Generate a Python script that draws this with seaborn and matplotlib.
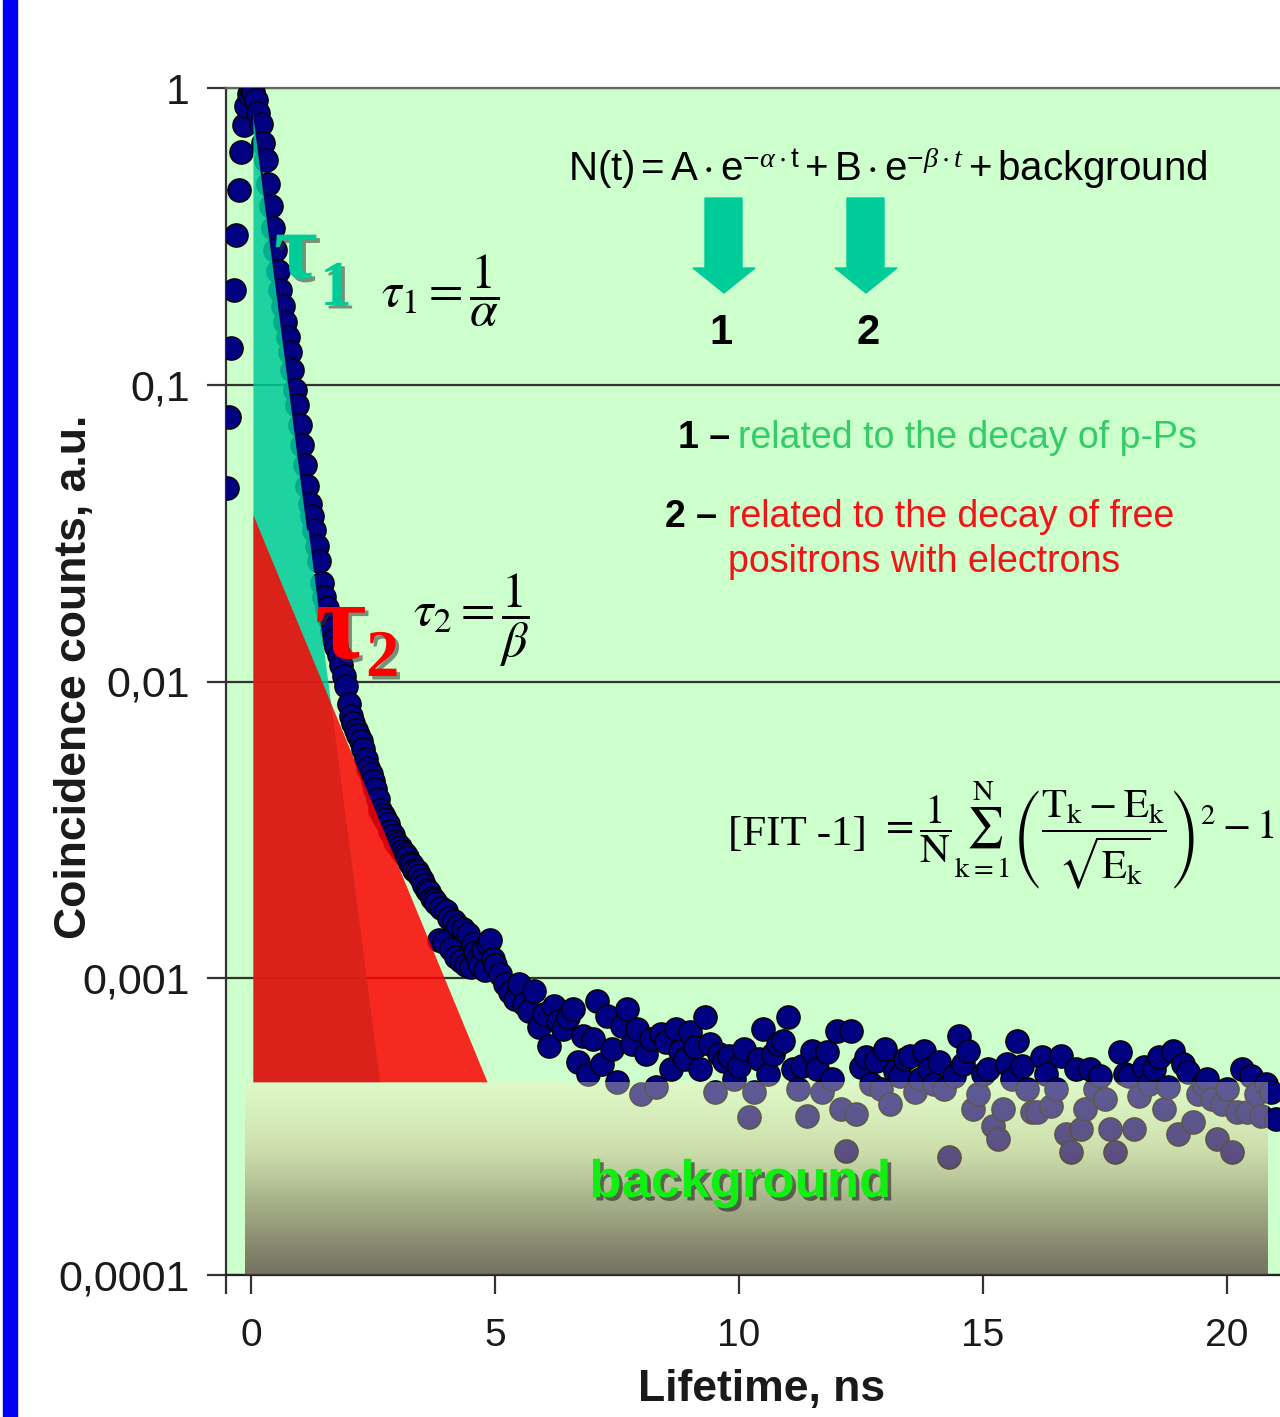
import numpy as np
import pandas as pd
import matplotlib
matplotlib.use("Agg")
import matplotlib.pyplot as plt
import matplotlib.patheffects as pe
from matplotlib.patches import Rectangle, Polygon
from matplotlib.ticker import FixedLocator, NullLocator
import seaborn as sns

# ============================================================
# 0. data
# ============================================================

# channels: -0.5 .. 5.0 ns every 0.05 ns
head_start, head_step = -0.5, 0.05
head_counts = [
    0.045, 0.078, 0.133, 0.209, 0.320, 0.454, 0.609, 0.750, 0.870, 0.955, 0.992,
    0.969, 0.911, 0.824, 0.756, 0.653, 0.572, 0.475, 0.401, 0.338, 0.285,
    0.242, 0.209, 0.1845, 0.163, 0.145, 0.129, 0.1123, 0.0962, 0.0856, 0.0733,
    0.0628, 0.0538, 0.0457, 0.0397, 0.0362, 0.0325, 0.0287, 0.0254, 0.0215, 0.0192,
    0.01775, 0.01642, 0.01496, 0.01385, 0.01302, 0.01224, 0.01141, 0.01047, 0.00962, 0.00837,
    0.00768, 0.00722, 0.00684, 0.00658, 0.00628, 0.00590, 0.00546, 0.00513, 0.00486, 0.00461,
    0.00433, 0.00401, 0.00368, 0.00354, 0.00343, 0.00330, 0.00313, 0.00303, 0.00291, 0.00283,
    0.00276, 0.00268, 0.00262, 0.00256, 0.00244, 0.00240, 0.00231, 0.00229, 0.00222, 0.00215,
    0.00206, 0.00199, 0.00195, 0.00187, 0.00183, 0.00179, 0.00135, 0.00173, 0.00132, 0.00168,
    0.00160, 0.00125, 0.00156, 0.00118, 0.00150, 0.00114, 0.00146, 0.00111, 0.00141, 0.00109,
    0.00130, 0.00123, 0.00116, 0.00111, 0.00125, 0.00107, 0.00130, 0.00135, 0.00116, 0.00111,
]

# channels: 5.1 .. 21.0 ns every 0.1 ns, counts in units of 1e-4
tail_start, tail_step = 5.1, 0.1
tail_counts_e4 = [
    10.31, 9.55, 8.97, 8.50, 9.55, 8.18, 7.75, 9.04, 6.84, 7.57,
    5.90, 8.05, 7.17, 6.74, 7.39, 7.87, 5.21, 6.38, 4.75, 6.23,
    8.37, 5.13, 7.45, 5.77, 4.47, 6.90, 7.87, 6.00, 6.74, 4.07,
    5.55, 6.23, 4.30, 6.48, 6.09, 4.94, 6.74, 5.68, 5.34, 6.58,
    5.86, 4.94, 7.39, 6.00, 4.13, 5.55, 5.25, 5.46, 4.57, 5.06,
    5.77, 3.40, 4.13, 5.34, 6.74, 4.75, 5.55, 6.00, 6.14, 7.39,
    4.94, 4.23, 5.06, 3.43, 5.68, 4.94, 4.13, 5.63, 4.57, 6.63,
    3.62, 2.62, 6.63, 3.48, 5.02, 5.42, 4.40, 5.25, 4.23, 5.77,
    3.77, 4.86, 4.68, 5.34, 5.46, 4.13, 4.57, 5.68, 4.94, 4.40,
    5.21, 4.23, 2.50, 4.68, 6.38, 5.13, 5.68, 3.62, 4.07, 4.75,
    4.94, 3.18, 2.87, 3.62, 5.13, 4.57, 6.14, 5.06, 4.23, 3.54,
    3.54, 5.42, 4.75, 3.71, 4.23, 5.46, 2.98, 2.60, 4.94, 3.10,
    3.62, 4.94, 4.23, 4.68, 3.91, 3.10, 2.60, 5.63, 4.75, 4.68,
    3.10, 4.01, 5.02, 4.40, 4.94, 5.42, 3.62, 4.30, 5.68, 2.98,
    5.13, 4.83, 3.28, 4.07, 4.40, 4.57, 3.91, 2.87, 3.77, 4.23,
    2.60, 3.54, 4.94, 3.54, 4.68, 4.07, 3.43, 4.40, 4.13, 3.35,
]

# fitted components (end points of the straight log lines)
bg_level = 4.47e-4
comp1_t = [0.04, 2.64]
comp1_n = [0.876, bg_level]
comp2_t = [0.04, 4.84]
comp2_n = [0.0365, bg_level]
fit_line_t = [0.04, 1.17]
fit_line_n = [0.876, 0.0325]
bg_t = [-0.12, 20.84]

y_ticks = [1e-4, 1e-3, 1e-2, 1e-1, 1]
y_tick_labels = ["0,0001", "0,001", "0,01", "0,1", "1"]
x_ticks = [0, 5, 10, 15, 20]
x_tick_labels = ["0", "5", "10", "15", "20"]

head_t = np.round(head_start + head_step * np.arange(len(head_counts)), 3)
tail_t = np.round(tail_start + tail_step * np.arange(len(tail_counts_e4)), 3)

df = pd.DataFrame({
    "t": np.concatenate([head_t, tail_t]),
    "n": np.concatenate([head_counts, np.array(tail_counts_e4) * 1e-4]),
})

# ============================================================
# 1. style
# ============================================================

sns.set_theme(style="ticks")
plt.rcParams["font.family"] = ["Liberation Sans", "DejaVu Sans"]
plt.rcParams["mathtext.rm"] = "Liberation Sans"
plt.rcParams["mathtext.it"] = "Liberation Serif:italic"
plt.rcParams["mathtext.bf"] = "Liberation Sans:bold"
plt.rcParams["mathtext.fallback"] = "stix"

W, H = 1280, 1417
x_min, x_max = -0.512, 21.086


def fp(x, y):
    # pixel position (from top-left) -> figure fraction
    return x / W, 1 - y / H


fig = plt.figure(figsize=(W / 100, H / 100), dpi=100)
fig.patch.set_facecolor("white")
fig.patches.append(Rectangle(fp(3, H), 14 / W, 1, transform=fig.transFigure,
                             color="#0000F5", zorder=0))

ax = fig.add_axes([226 / W, 1 - 1275 / H, (W - 226) / W, (1275 - 88) / H])
ax.set_facecolor("#CCFFCC")

# ============================================================
# 2. plot
# ============================================================

sns.scatterplot(data=df, x="t", y="n", ax=ax, s=280, color="#000080",
                edgecolor="black", linewidth=1.0, zorder=3, legend=False)

ax.fill_between(comp1_t, comp1_n, bg_level, color="#00CC99", alpha=0.85,
                lw=0, zorder=4)
ax.fill_between(comp2_t, comp2_n, bg_level, color="#FF0000", alpha=0.84,
                lw=0, zorder=5)
ax.plot(fit_line_t, fit_line_n, color="#000066", lw=1.5, zorder=6)

ax.set_yscale("log")
ax.set_xlim(x_min, x_max)
ax.set_ylim(1e-4, 1)

ax.yaxis.set_major_locator(FixedLocator(y_ticks))
ax.yaxis.set_minor_locator(NullLocator())
ax.set_yticklabels(y_tick_labels)
ax.set_xticks([x_min] + x_ticks)
ax.set_xticklabels([""] + x_tick_labels)

ax.tick_params(axis="both", which="major", length=14, width=1.6,
               color="#333333", labelcolor="#1a1a1a", direction="out")
ax.tick_params(axis="x", labelsize=28, pad=17)
ax.tick_params(axis="y", labelsize=31, pad=12)

ax.set_axisbelow(True)
ax.grid(axis="y", which="major", color="#333333", lw=1.6)
ax.grid(axis="x", visible=False)

ax.spines["right"].set_visible(False)
ax.spines["top"].set_color("#666666")
ax.spines["left"].set_color("#333333")
ax.spines["bottom"].set_color("#222222")
for s in ["top", "left", "bottom"]:
    ax.spines[s].set_linewidth(1.6)

ax.set_xlabel("")
ax.set_ylabel("")

# background band with vertical gradient (drawn over the points)
p0 = ax.transData.transform((bg_t[0], 1e-4))
p1 = ax.transData.transform((bg_t[1], bg_level))
f0 = fig.transFigure.inverted().transform(p0)
f1 = fig.transFigure.inverted().transform(p1)
ax_bg = fig.add_axes([f0[0], f0[1], f1[0] - f0[0], f1[1] - f0[1]])
ax_bg.set_zorder(ax.get_zorder() + 1)

stops = [0, 0.35, 0.6, 0.85, 1.0]
stop_rgba = np.array([
    [251, 242, 193, 0.38 * 255],
    [206, 182, 133, 0.45 * 255],
    [142, 119, 88, 0.55 * 255],
    [98, 70, 59, 0.65 * 255],
    [80, 61, 53, 0.72 * 255],
]) / 255
rows = np.linspace(0, 1, 200)
grad = np.stack([np.interp(rows, stops, stop_rgba[:, c]) for c in range(4)], axis=-1)
grad = np.repeat(grad[:, None, :], 2, axis=1)
ax_bg.imshow(grad, aspect="auto", extent=(0, 1, 0, 1), interpolation="bilinear")
ax_bg.set_axis_off()

# ============================================================
# 3. texts
# ============================================================

fig.text(*fp(75, 677), "Coincidence counts, a.u.", rotation=90, ha="center",
         va="center", fontsize=32, fontweight="bold", color="#1a1a1a")
fig.text(*fp(762, 1390), "Lifetime, ns", ha="center", va="center",
         fontsize=32, fontweight="bold", color="#1a1a1a")

shadow = [pe.withSimplePatchShadow(offset=(2.5, -2.5), shadow_rgbFace="#333333",
                                   alpha=0.55)]
serif = ["Liberation Serif", "DejaVu Serif"]

fig.text(*fp(274, 278), "τ", family=serif, fontweight="bold", fontsize=68,
         color="#00CC99", va="baseline", path_effects=shadow)
fig.text(*fp(320, 305), "1", family=serif, fontweight="bold", fontsize=46,
         color="#00CC99", va="baseline", path_effects=shadow)
fig.text(*fp(315, 658), "τ", family=serif, fontweight="bold", fontsize=80,
         color="#FF0000", va="baseline", path_effects=shadow)
fig.text(*fp(366, 676), "2", family=serif, fontweight="bold", fontsize=48,
         color="#FF0000", va="baseline", path_effects=shadow)

fig.text(*fp(440, 291), r"$\tau_1 = \dfrac{1}{\alpha}$", math_fontfamily="stix",
         fontsize=36, ha="center", va="center", color="black")
fig.text(*fp(471, 620), r"$\tau_2 = \dfrac{1}{\beta}$", math_fontfamily="stix",
         fontsize=36, ha="center", va="center", color="black")

fig.text(*fp(568, 181),
         r"$\mathrm{N(t)}=\mathrm{A}\cdot\mathrm{e}^{\mathrm{-}\alpha\cdot\mathrm{t}}"
         r"+\mathrm{B}\cdot\mathrm{e}^{-\beta\cdot t}+\mathrm{background}$",
         math_fontfamily="custom", fontsize=29, ha="left", va="baseline",
         color="black")

# arrows 1 and 2
for cx in [724, 866]:
    pts = [(cx - 19, 198), (cx + 18, 198), (cx + 18, 268), (cx + 31, 268),
           (cx, 293), (cx - 31, 268), (cx - 19, 268)]
    fig.patches.append(Polygon([fp(x, y) for x, y in pts], closed=True,
                               transform=fig.transFigure, color="#00CC99",
                               zorder=5))
fig.text(*fp(721, 333), "1", ha="center", va="center", fontsize=30,
         fontweight="bold", color="black")
fig.text(*fp(868, 333), "2", ha="center", va="center", fontsize=30,
         fontweight="bold", color="black")

fig.text(*fp(678, 438), "1 –", ha="left", va="center", fontsize=27,
         fontweight="bold", color="black")
fig.text(*fp(738, 438), "related to the decay of p-Ps", ha="left", va="center",
         fontsize=27, color="#33CC66")
fig.text(*fp(665, 517), "2 –", ha="left", va="center", fontsize=27,
         fontweight="bold", color="black")
fig.text(*fp(728, 517), "related to the decay of free", ha="left", va="center",
         fontsize=27, color="#F01414")
fig.text(*fp(728, 562), "positrons with electrons", ha="left", va="center",
         fontsize=27, color="#F01414")

fig.text(*fp(728, 835), "[FIT -1]", family=serif, fontsize=31, ha="left",
         va="center", color="black")
fig.text(*fp(880, 835),
         r"$=\dfrac{1}{\mathrm{N}}\sum_{\mathrm{k=1}}^{\mathrm{N}}"
         r"\left(\dfrac{\mathrm{T_k}-\mathrm{E_k}}{\sqrt{\mathrm{E_k}}}\right)^{2}-1$",
         math_fontfamily="stix", fontsize=29.5, ha="left", va="center",
         color="black")

bg_shadow = [pe.withSimplePatchShadow(offset=(2.5, -2.5), shadow_rgbFace="#222222",
                                      alpha=0.6)]
fig.text(*fp(740, 1183), "background", ha="center", va="center", fontsize=38,
         fontweight="bold", color="#11EE11", path_effects=bg_shadow)

fig.savefig("out.png", dpi=100)
